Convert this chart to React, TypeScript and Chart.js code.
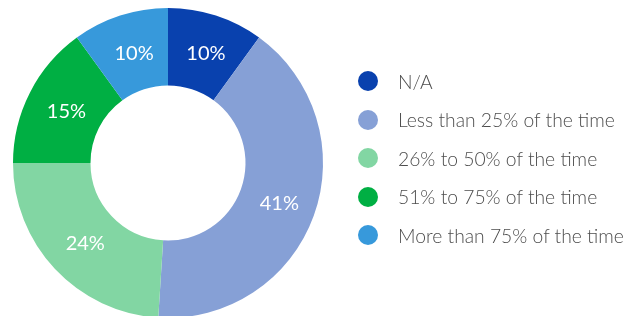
import React, { useEffect, useRef } from "react";
import { Chart, registerables } from "chart.js";

Chart.register(...registerables);

const categories = [
  "N/A",
  "Less than 25% of the time",
  "26% to 50% of the time",
  "51% to 75% of the time",
  "More than 75% of the time",
];
const values = [10, 41, 24, 15, 10];
const colors = ["#0941AE", "#86A0D6", "#82D6A3", "#00AF43", "#3799DB"];

const FONT = "Lato, 'Open Sans', sans-serif";

const labelPlugin = {
  id: "sliceLabels",
  afterDatasetsDraw(chart: any) {
    const ctx = chart.ctx;
    const meta = chart.getDatasetMeta(0);
    ctx.save();
    ctx.fillStyle = "#ffffff";
    ctx.font = `400 20px ${FONT}`;
    ctx.textAlign = "center";
    ctx.textBaseline = "middle";
    meta.data.forEach((arc: any, i: number) => {
      const p = arc.getCenterPoint();
      ctx.fillText(`${values[i]}%`, p.x + 2, p.y + 1);
    });
    ctx.restore();
  },
};

export default function App() {
  const ref = useRef<HTMLCanvasElement>(null);
  useEffect(() => {
    if (!ref.current) return;
    const chart = new Chart(ref.current, {
      type: "doughnut",
      data: {
        labels: categories,
        datasets: [
          {
            data: values,
            backgroundColor: colors,
            borderWidth: 0,
          },
        ],
      },
      options: {
        responsive: false,
        animation: false,
        cutout: "50%",
        layout: { padding: { left: 13, top: 8, right: 315, bottom: 8 } },
        plugins: {
          legend: { display: false },
          tooltip: { enabled: false },
        },
      },
      plugins: [labelPlugin],
    });
    return () => chart.destroy();
  }, []);

  return (
    <div
      style={{
        position: "fixed",
        left: 0,
        top: 0,
        width: 638,
        height: 316,
        overflow: "hidden",
        background: "#fff",
      }}
    >
      <canvas ref={ref} width={638} height={326} style={{ display: "block" }} />
      <div style={{ position: "absolute", left: 358, top: 62 }}>
        {categories.map((c, i) => (
          <div
            key={c}
            style={{
              display: "flex",
              alignItems: "center",
              height: 38.5,
              fontFamily: FONT,
              fontWeight: 300,
              fontSize: 19.3,
              color: "#4d4d4d",
              whiteSpace: "nowrap",
            }}
          >
            <span
              style={{
                display: "inline-block",
                width: 20,
                height: 20,
                borderRadius: "50%",
                background: colors[i],
                marginRight: 20,
                flex: "none",
              }}
            />
            {c}
          </div>
        ))}
      </div>
    </div>
  );
}
